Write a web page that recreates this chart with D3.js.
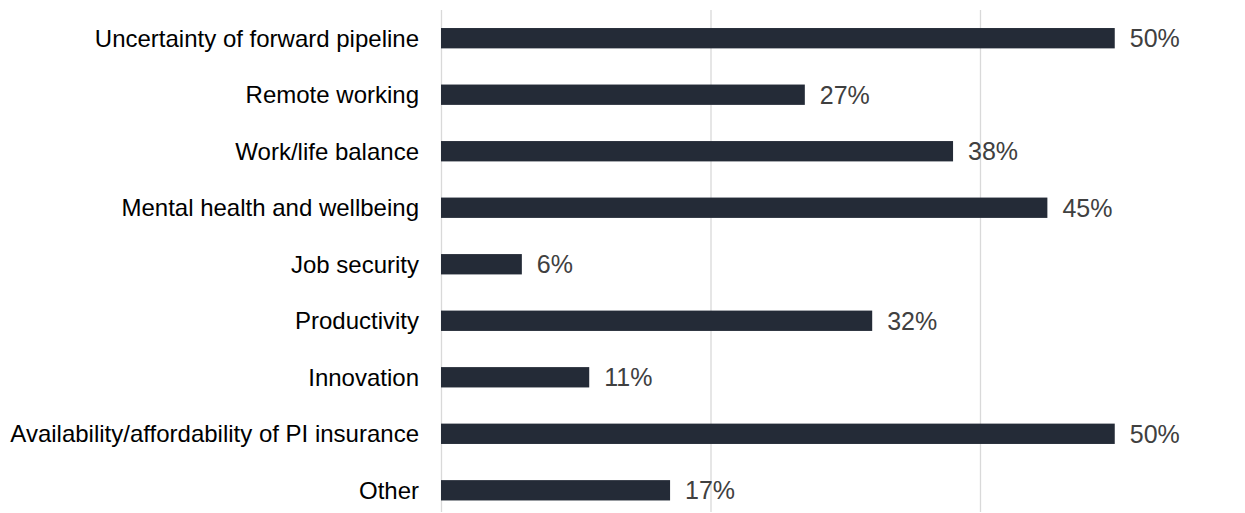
<!DOCTYPE html>
<html>
<head>
<meta charset="utf-8">
<script src="https://cdn.jsdelivr.net/npm/d3@7"></script>
<style>
  body { margin: 0; background: #fff; }
  svg { display: block; font-family: "Liberation Sans", Arial, sans-serif; }
</style>
</head>
<body>
<script>
// data
let categories = [
  'Uncertainty of forward pipeline',
  'Remote working',
  'Work/life balance',
  'Mental health and wellbeing',
  'Job security',
  'Productivity',
  'Innovation',
  'Availability/affordability of PI insurance',
  'Other'
];
let values = [50, 27, 38, 45, 6, 32, 11, 50, 17];
let gridTicks = [0, 20, 40];

let w = 1245;
let h = 513;

let svg = d3.select('body')
            .append('svg')
            .attr('width', w)
            .attr('height', h);

// x: 0 sits at 441, each 20% is ~269.5px
let xScale = d3.scaleLinear()
               .domain([0, 60])
               .range([441, 1249.5]);

let yScale = d3.scaleBand()
               .domain(categories)
               .range([9.95, 518.55])
               .paddingInner(0.64)
               .paddingOuter(0.32);

// vertical gridlines
let grid = d3.axisBottom(xScale)
             .tickValues(gridTicks)
             .tickSize(-502)
             .tickFormat('');

let gridG = svg.append('g')
               .attr('transform', 'translate(0,512)')
               .call(grid);
gridG.select('.domain').remove();
gridG.selectAll('line').attr('stroke', '#d9d9d9').attr('stroke-width', 1.3);

// bars
svg.selectAll('rect.bar')
   .data(values)
   .enter()
   .append('rect')
   .attr('class', 'bar')
   .attr('x', xScale(0))
   .attr('y', (d, i) => yScale(categories[i]))
   .attr('width', d => xScale(d) - xScale(0))
   .attr('height', yScale.bandwidth())
   .attr('fill', '#242b37');

// value labels
svg.selectAll('text.val')
   .data(values)
   .enter()
   .append('text')
   .attr('class', 'val')
   .attr('x', d => xScale(d) + 15)
   .attr('y', (d, i) => yScale(categories[i]) + yScale.bandwidth() / 2)
   .attr('dy', '0.36em')
   .attr('font-size', '25px')
   .attr('fill', '#404040')
   .text(d => d + '%');

// category labels
svg.selectAll('text.cat')
   .data(categories)
   .enter()
   .append('text')
   .attr('class', 'cat')
   .attr('x', 419)
   .attr('y', d => yScale(d) + yScale.bandwidth() / 2)
   .attr('dy', '0.36em')
   .attr('text-anchor', 'end')
   .attr('font-size', '24px')
   .attr('fill', '#000')
   .text(d => d);
</script>
</body>
</html>
